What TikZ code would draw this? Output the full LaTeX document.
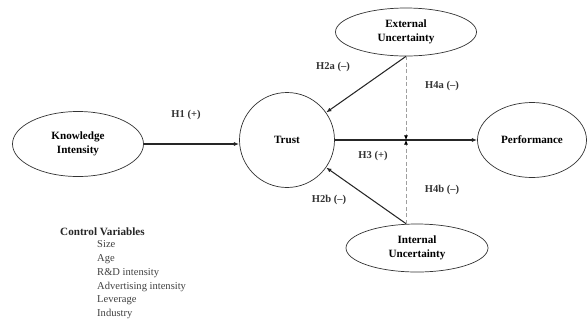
\documentclass[tikz,border=0pt]{standalone}
\usepackage{fontspec}
\setmainfont{Liberation Serif}
\usetikzlibrary{arrows.meta, shapes.geometric, positioning}

\begin{document}
\begin{tikzpicture}[
  x=0.03cm, y=-0.03cm,
  construct/.style = {ellipse, draw=black!80, line width=0.6pt, align=center,
                      font=\fontsize{9.5}{12}\selectfont\bfseries, inner sep=0pt},
  core/.style      = {circle, draw=black!80, line width=0.6pt, align=center,
                      font=\fontsize{9.5}{12}\selectfont\bfseries, inner sep=0pt},
  hyp/.style       = {font=\fontsize{9}{11}\selectfont\bfseries, text=black!80},
  arr/.style       = {-{Latex[length=4.5pt,width=3.5pt]}, line width=0.9pt, black!85},
  darr/.style      = {-{Latex[length=4pt,width=3.5pt,color=black]}, gray!75,
                      dash pattern=on 3.5pt off 2pt, line width=0.6pt},
]
\useasboundingbox (0,0) rectangle (587,325);

%% constructs
\node[construct, minimum width=3.93cm, minimum height=1.95cm] (know) at (78,144) {Knowledge\\Intensity};
\node[core, minimum size=2.85cm]                              (trust) at (287,140) {Trust};
\node[construct, minimum width=4.23cm, minimum height=1.44cm] (ext)  at (406,32)  {External\\Uncertainty};
\node[construct, minimum width=4.26cm, minimum height=1.44cm] (int)  at (417,248) {Internal\\Uncertainty};
\node[construct, minimum width=3.27cm, minimum height=2.25cm] (perf) at (532,140) {Performance};

\coordinate (trustIn) at (know.east -| trust.west);
\coordinate (intTop)  at (ext.south |- int.north);
\coordinate (mod)     at (ext.south |- trust.east);

%% paths
\draw[arr] (know.east) -- (trustIn);
\draw[arr] (trust)     -- (perf);
\draw[arr] (ext.south) -- (trust);
\draw[arr] (intTop)    -- (trust);
\draw[darr] (ext.south) -- (mod);
\draw[darr] (intTop)    -- (mod);

%% hypotheses
\node[hyp] (h1)  at (186,115) {H1 (+)};
\node[hyp] (h2a) at (333,67)  {H2a (--)};
\node[hyp] (h2b) at (329,200) {H2b (--)};
\node[hyp] (h3)  at (373,156) {H3 (+)};
\node[hyp] (h4a) at (442,86)  {H4a (--)};
\node[hyp] (h4b) at (442,190) {H4b (--)};

%% controls
\node[anchor=west, inner sep=0pt, font=\fontsize{9.5}{12}\selectfont\bfseries, text=black!85]
     (ctrl) at (60,232) {Control Variables};
\node[anchor=north west, inner sep=0pt, align=left, text=black!75,
      font=\fontsize{9}{11.9}\selectfont] (ctrllist) at (97,240)
     {Size\\Age\\R\&D intensity\\Advertising intensity\\Leverage\\Industry};

\end{tikzpicture}
\end{document}
